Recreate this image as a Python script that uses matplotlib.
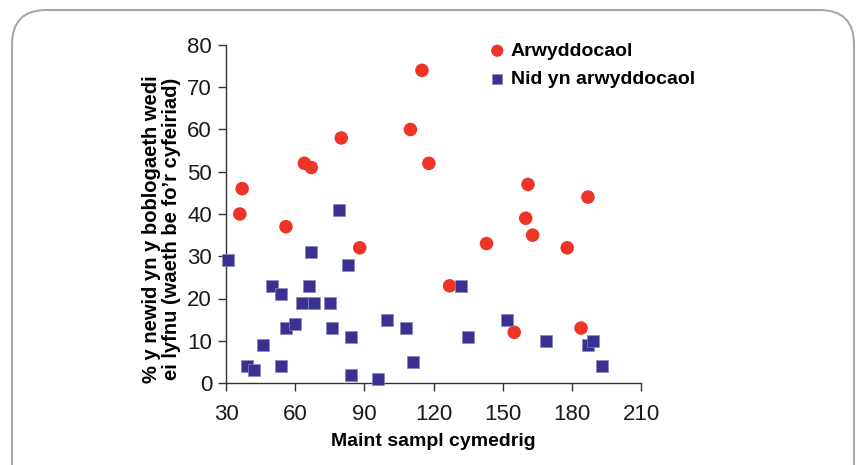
import matplotlib
matplotlib.use("Agg")
import matplotlib.pyplot as plt
from matplotlib.patches import FancyBboxPatch

sig_x = [36, 37, 56, 64, 67, 80, 88, 110, 115, 118, 127, 143, 155, 160, 161, 163, 178, 184, 187]
sig_y = [40, 46, 37, 52, 51, 58, 32, 60, 74, 52, 23, 33, 12, 39, 47, 35, 32, 13, 44]

ns_x = [31, 39, 42, 46, 50, 54, 54, 56, 60, 63, 66, 67, 68, 75, 76, 79, 83, 84, 84,
        96, 100, 108, 111, 132, 135, 152, 169, 187, 189, 193]
ns_y = [29, 4, 3, 9, 23, 21, 4, 13, 14, 19, 23, 31, 19, 19, 13, 41, 28, 11, 2,
        1, 15, 13, 5, 23, 11, 15, 10, 9, 10, 4]

x_ticks = [30, 60, 90, 120, 150, 180, 210]
y_ticks = [0, 10, 20, 30, 40, 50, 60, 70, 80]

labels = ["Arwyddocaol", "Nid yn arwyddocaol"]
xlabel = "Maint sampl cymedrig"
ylabel = "% y newid yn y boblogaeth wedi\nei lyfnu (waeth be fo\u2019r cyfeiriad)"

RED = "#EE3426"
BLUE = "#3A3191"
FONT = "Liberation Sans"

fig = plt.figure(figsize=(8.6, 4.65), dpi=100)
fig.patch.set_facecolor("white")

box = FancyBboxPatch((12 / 860, -0.1), 842 / 860, (465 - 10) / 465 + 0.1,
                     boxstyle="round,pad=0,rounding_size=0.04",
                     transform=fig.transFigure, facecolor="white",
                     edgecolor="#A8A8A8", linewidth=1.5, mutation_aspect=860 / 465,
                     zorder=-10)
fig.patches.append(box)

ax = fig.add_axes([226 / 860, 1 - 383 / 465, 415 / 860, 338 / 465])
ax.set_facecolor("none")
ax.set_zorder(5)

ax.scatter(sig_x, sig_y, s=95, marker="o", color=RED, edgecolors="none",
           label=labels[0], zorder=3, clip_on=False)
ax.scatter(ns_x, ns_y, s=75, marker="s", color=BLUE, edgecolors="#8A86C0",
           linewidths=0.5, label=labels[1], zorder=3, clip_on=False)

ax.set_xlim(30, 210)
ax.set_ylim(0, 80)
ax.set_xticks(x_ticks)
ax.set_yticks(y_ticks)

for s in ["top", "right"]:
    ax.spines[s].set_visible(False)
for s in ["left", "bottom"]:
    ax.spines[s].set_color("#333333")
    ax.spines[s].set_linewidth(1.0)

ax.tick_params(axis="both", direction="out", length=6, width=1.0, color="#333333",
               labelcolor="#1a1a1a")
ax.tick_params(axis="x", pad=9)
ax.tick_params(axis="y", pad=4)
for lab in ax.get_xticklabels() + ax.get_yticklabels():
    lab.set_fontfamily(FONT)
    lab.set_fontsize(16)

ax.set_xlabel(xlabel, fontsize=14, fontweight="bold", family=FONT, labelpad=6)
ax.set_ylabel(ylabel, fontsize=14.5, fontweight="bold", family=FONT,
              linespacing=1.05)
ax.yaxis.set_label_coords(-0.108, 0.456)

leg = ax.legend(loc="upper left", bbox_to_anchor=(0.588, 1.06), frameon=False,
                prop={"weight": "bold", "size": 14, "family": FONT},
                handletextpad=0.2, labelspacing=0.55, markerscale=0.9,
                handlelength=1.0)

fig.savefig("out.png", dpi=100, facecolor="white")
